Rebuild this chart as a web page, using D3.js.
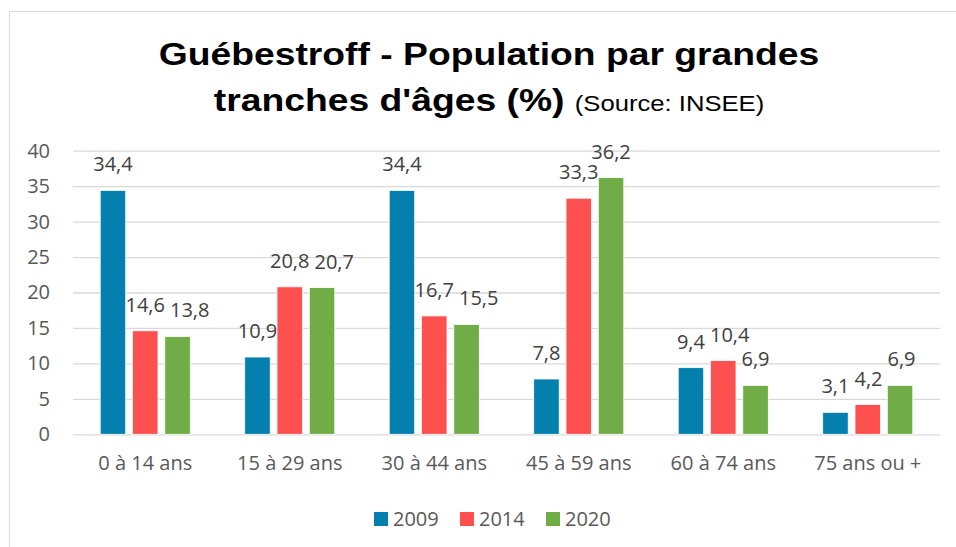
<!DOCTYPE html>
<html>
<head>
<meta charset="utf-8">
<script src="https://cdn.jsdelivr.net/npm/d3@7"></script>
<style>
  body { margin: 0; background: #fff; overflow: hidden; }
  svg { display: block; }
  svg text { font-family: "Open Sans", sans-serif; }
</style>
</head>
<body>
<div id="chart"></div>
<script>
// Age brackets and the three census years
const categories = ["0 à 14 ans", "15 à 29 ans", "30 à 44 ans", "45 à 59 ans", "60 à 74 ans", "75 ans ou +"];
const years = ["2009", "2014", "2020"];
const values2009 = [34.4, 10.9, 34.4, 7.8, 9.4, 3.1];
const values2014 = [14.6, 20.8, 16.7, 33.3, 10.4, 4.2];
const values2020 = [13.8, 20.7, 15.5, 36.2, 6.9, 6.9];
const yTicks = [0, 5, 10, 15, 20, 25, 30, 35, 40];
const colors = ["#0580AE", "#FF5050", "#70AD47"];

const width = 956;
const height = 547;
const margin = { top: 150.7, right: 16, bottom: 112.7, left: 73 };
const innerWidth = width - margin.left - margin.right;
const innerHeight = height - margin.top - margin.bottom;

const seriesValues = [values2009, values2014, values2020];
const fmt = (v) => v.toFixed(1).replace(".", ",");

const svg = d3
  .select("#chart")
  .append("svg")
  .attr("width", width)
  .attr("height", height)
  .attr("viewBox", [0, 0, width, height]);

// chart area border (right/bottom edges fall outside the picture)
svg
  .append("path")
  .attr("d", `M9.5,${height}V11.5H${width}`)
  .attr("fill", "none")
  .attr("stroke", "#D9D9D9");

// title is drawn slightly stretched, like the source picture
const titleFont = "'Liberation Sans', Arial, sans-serif";
const title = svg
  .append("g")
  .attr("transform", "translate(489,0) scale(1.165,1)")
  .append("text")
  .attr("text-anchor", "middle")
  .attr("fill", "#000");

title
  .append("tspan")
  .attr("x", 0)
  .attr("y", 65)
  .style("font-family", titleFont)
  .style("font-weight", "bold")
  .style("font-size", "32px")
  .text("Guébestroff - Population par grandes");

const line2 = title.append("tspan").attr("x", 0).attr("y", 111);
line2
  .append("tspan")
  .style("font-family", titleFont)
  .style("font-weight", "bold")
  .style("font-size", "32px")
  .text("tranches d'âges (%) ");
line2
  .append("tspan")
  .style("font-family", titleFont)
  .style("font-size", "22px")
  .text("(Source: INSEE)");

const group = svg
  .append("g")
  .attr("transform", `translate(${margin.left},${margin.top})`);

const x0 = d3.scaleBand().domain(categories).range([0, innerWidth]);
const groupWidth = 90.1;
const x1 = d3
  .scaleBand()
  .domain(years)
  .range([0, groupWidth])
  .paddingInner(0.21);

const y = d3.scaleLinear().domain([0, 40]).range([innerHeight, 0]);

// gridlines
group
  .append("g")
  .call(d3.axisLeft(y).tickValues(yTicks).tickSize(-innerWidth).tickFormat(""))
  .call((g) => g.select(".domain").remove())
  .selectAll("line")
  .attr("stroke", "#D9D9D9")
  .attr("stroke-width", 1.3);

// y labels
group
  .append("g")
  .call(d3.axisLeft(y).tickValues(yTicks).tickSize(0).tickPadding(23))
  .call((g) => g.select(".domain").remove())
  .selectAll("text")
  .attr("fill", "#595959")
  .style("font-family", "'Open Sans', sans-serif")
  .style("font-size", "20px");

// category labels
group
  .append("g")
  .attr("transform", `translate(0,${innerHeight})`)
  .call(d3.axisBottom(x0).tickSize(0).tickPadding(22))
  .call((g) => g.select(".domain").remove())
  .selectAll("text")
  .attr("fill", "#595959")
  .style("font-family", "'Open Sans', sans-serif")
  .style("font-size", "20px");

const rows = categories.map((c, ci) => ({
  cat: c,
  items: years.map((yr, si) => ({ year: yr, si, value: seriesValues[si][ci] })),
}));

const cats = group
  .selectAll("g.cat")
  .data(rows)
  .join("g")
  .attr("class", "cat")
  .attr("transform", (d) => `translate(${x0(d.cat) + (x0.bandwidth() - groupWidth) / 2},0)`);

cats
  .selectAll("rect")
  .data((d) => d.items)
  .join("rect")
  .attr("x", (d) => x1(d.year))
  .attr("y", (d) => y(d.value))
  .attr("width", x1.bandwidth())
  .attr("height", (d) => innerHeight - y(d.value))
  .attr("fill", (d) => colors[d.si])
  .attr("stroke", "#fff")
  .attr("stroke-width", 0.8);

cats
  .selectAll("text.lbl")
  .data((d) => d.items)
  .join("text")
  .attr("class", "lbl")
  .attr("x", (d) => x1(d.year) + x1.bandwidth() / 2)
  .attr("y", (d) => y(d.value) - 26)
  .attr("dy", "0.35em")
  .attr("text-anchor", "middle")
  .attr("fill", "#404040")
  .style("font-size", "20px")
  .text((d) => fmt(d.value));

// nudge overlapping data labels to the right, as the spreadsheet does
cats.each(function () {
  let prev = null;
  d3.select(this)
    .selectAll("text.lbl")
    .each(function () {
      const node = d3.select(this);
      const w = this.getComputedTextLength();
      let cx = +node.attr("x");
      const cy = +node.attr("y");
      if (prev && Math.abs(cy - prev.cy) < 20 && cx - w / 2 < prev.right + 5) {
        cx = prev.right + 5 + w / 2;
        node.attr("x", cx);
      }
      prev = { right: cx + w / 2, cy };
    });
});

// legend
const legendItems = [
  { year: years[0], color: colors[0], x: 374 },
  { year: years[1], color: colors[1], x: 460 },
  { year: years[2], color: colors[2], x: 546 },
];
const legend = svg
  .append("g")
  .selectAll("g")
  .data(legendItems)
  .join("g")
  .attr("transform", (d) => `translate(${d.x},519)`);

legend
  .append("rect")
  .attr("x", 0)
  .attr("y", -7)
  .attr("width", 14)
  .attr("height", 14)
  .attr("fill", (d) => d.color);

legend
  .append("text")
  .attr("x", 19)
  .attr("dy", "0.35em")
  .attr("fill", "#595959")
  .style("font-size", "20px")
  .text((d) => d.year);
</script>
</body>
</html>
